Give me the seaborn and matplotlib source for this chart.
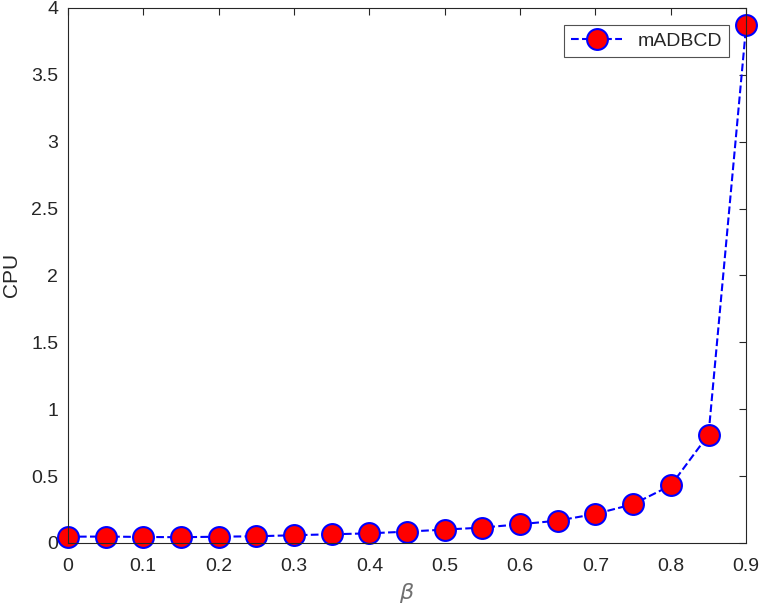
import matplotlib.pyplot as plt
import seaborn as sns
import numpy as np

beta = [0, 0.05, 0.1, 0.15, 0.2, 0.25, 0.3, 0.35, 0.4, 0.45,
        0.5, 0.55, 0.6, 0.65, 0.7, 0.75, 0.8, 0.85, 0.9]
cpu = [0.047, 0.048, 0.045, 0.043, 0.047, 0.05, 0.058, 0.065, 0.072, 0.085,
       0.10, 0.115, 0.14, 0.167, 0.217, 0.29, 0.43, 0.81, 3.87]

sns.set_style('white')
plt.rcParams['font.family'] = ['Liberation Sans', 'DejaVu Sans']

fig = plt.figure(figsize=(7.63, 6.06), dpi=100)
ax = fig.add_axes([0.089, 0.104, 0.889, 0.883])

sns.lineplot(x=beta, y=cpu, ax=ax, color='blue', linestyle='--', linewidth=1.5,
             marker='o', markersize=15, markerfacecolor='red',
             markeredgecolor='blue', markeredgewidth=1.5,
             label='mADBCD', clip_on=False)

ax.set_xlim(0, 0.9)
ax.set_ylim(0, 4)
ax.set_xticks(np.arange(0, 0.91, 0.1))
ax.set_xticklabels(['0', '0.1', '0.2', '0.3', '0.4', '0.5', '0.6', '0.7', '0.8', '0.9'])
ax.set_yticks(np.arange(0, 4.01, 0.5))
ax.set_yticklabels(['0', '0.5', '1', '1.5', '2', '2.5', '3', '3.5', '4'])
ax.tick_params(direction='in', length=5, width=0.8, top=True, right=True,
               labelsize=14, colors='#262626')
ax.tick_params(axis='x', pad=11)
ax.tick_params(axis='y', pad=7)
for s in ax.spines.values():
    s.set_color('#262626')
    s.set_linewidth(0.8)

ax.set_xlabel(r'$\beta$', fontsize=16, color='#707070', labelpad=4)
ax.set_ylabel('CPU', fontsize=15, color='#262626', labelpad=7)

leg = ax.legend(loc='upper right', fontsize=14, frameon=True, fancybox=False,
                edgecolor='#262626', borderaxespad=0.9, handlelength=2.6,
                borderpad=0.35, handletextpad=0.8)
leg.get_frame().set_linewidth(0.8)

fig.savefig('out.png', dpi=100)
